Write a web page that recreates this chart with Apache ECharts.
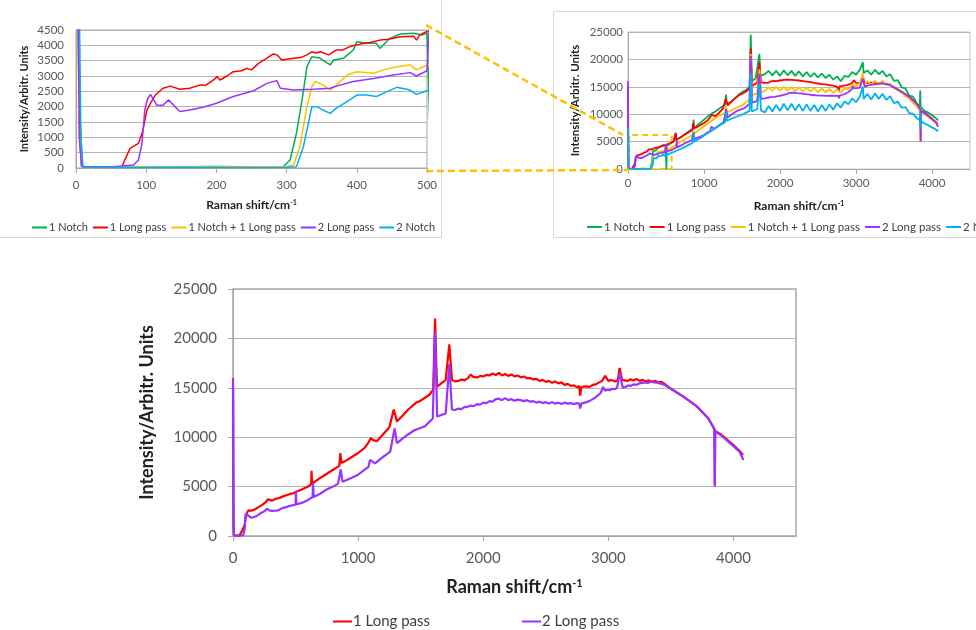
<!DOCTYPE html>
<html>
<head>
<meta charset="utf-8">
<script src="https://cdn.jsdelivr.net/npm/echarts@6/dist/echarts.min.js"></script>
<style>
  html, body { margin: 0; padding: 0; background: #ffffff; }
  #chart { width: 976px; height: 630px; }
</style>
</head>
<body>
<div id="chart"></div>
<script>
// Raman spectra of the same sample recorded through different filter sets.
// Each series is a list of [Raman shift (cm-1), intensity] pairs.

const seriesNames = ['1 Notch', '1 Long pass', '1 Notch + 1 Long pass', '2 Long pass', '2 Notch'];

const notch1 = [
  [0, 5200], [3, 4800], [6, 1500], [9, 60], [15, 30], [50, 40], [100, 25], [150, 30], [200, 45], [250, 30],
  [295, 43], [305, 261], [314, 1130], [322, 2217], [329, 3304], [336, 3630], [348, 3576], [362, 3359],
  [367, 3522], [381, 3576], [395, 3848], [400, 4120], [414, 4065], [428, 4065], [433, 3900], [447, 4228],
  [462, 4370], [481, 4391], [493, 4337], [500, 4400], [506, 0], [510, 4300], [550, 4550], [600, 5000],
  [625, 5300], [630, 6500], [635, 5350], [700, 5800], [800, 6900], [855, 7400], [862, 9000], [870, 7500],
  [950, 8400], [1000, 9000], [1050, 9600], [1100, 10100], [1150, 10500], [1200, 11000], [1280, 11800],
  [1290, 13600], [1300, 12000], [1350, 12200], [1400, 12800], [1450, 13500], [1500, 14000], [1560, 14500],
  [1600, 15000], [1615, 24500], [1630, 16000], [1680, 16600], [1700, 16900], [1729, 21000], [1740, 17000],
  [1800, 17300], [1850, 17900], [1900, 17100], [1950, 17900], [2000, 17000], [2050, 18000], [2100, 17100],
  [2150, 17900], [2200, 17000], [2250, 17800], [2300, 16900], [2350, 17700], [2400, 16800], [2450, 17500],
  [2500, 16700], [2550, 17400], [2600, 16600], [2650, 17200], [2700, 16300], [2750, 16900], [2800, 16000],
  [2850, 17000], [2900, 16800], [2950, 17700], [3000, 17200], [3050, 18100], [3090, 19500], [3100, 17500],
  [3150, 18000], [3200, 17200], [3250, 18100], [3300, 17300], [3350, 17900], [3400, 16900], [3450, 17300],
  [3500, 16100], [3550, 16200], [3600, 14900], [3650, 14700], [3700, 13400], [3750, 13200], [3800, 11900],
  [3840, 11500], [3845, 14300], [3850, 11400], [3900, 10600], [3950, 10300], [4000, 9800], [4050, 9300],
  [4080, 8900]
];

const longPass1 = [
  [0, 15000], [1, 14000], [3, 4800], [5, 1000], [8, 60], [15, 35], [30, 30], [50, 40], [65, 30], [77, 640],
  [89, 800], [95, 1200], [101, 1890], [107, 2150], [113, 2380], [124, 2600], [134, 2670], [148, 2570],
  [162, 2600], [177, 2710], [185, 2700], [196, 2870], [201, 2980], [205, 2870], [215, 3000], [224, 3140],
  [236, 3170], [243, 3250], [250, 3200], [260, 3410], [272, 3580], [281, 3720], [287, 3680], [293, 3520],
  [310, 3580], [320, 3600], [329, 3690], [336, 3790], [342, 3750], [348, 3790], [360, 3690], [371, 3850],
  [380, 3850], [390, 3960], [405, 4040], [420, 4100], [433, 4170], [445, 4200], [462, 4280], [481, 4300],
  [485, 4170], [490, 4350], [500, 4450], [550, 4700], [600, 5000], [625, 5250], [628, 6600], [632, 5300],
  [700, 5900], [750, 6300], [800, 6700], [850, 7100], [858, 8400], [866, 7400], [900, 7600], [950, 8000],
  [1000, 8400], [1050, 8900], [1085, 9500], [1100, 9900], [1120, 9700], [1150, 9600], [1200, 10300],
  [1250, 11000], [1285, 12800], [1310, 11600], [1350, 12100], [1400, 12800], [1465, 13500], [1500, 13700],
  [1570, 14300], [1600, 14800], [1615, 22000], [1630, 15100], [1700, 15800], [1729, 19400],
  [1750, 15800], [1775, 15650], [1800, 15700], [1825, 15850], [1850, 15750], [1880, 16000], [1900, 16350],
  [1920, 16100], [1950, 16050], [1975, 16200], [2000, 16150], [2025, 16300], [2050, 16250], [2075, 16450],
  [2100, 16300], [2125, 16500], [2150, 16250], [2175, 16400], [2200, 16200], [2225, 16350], [2250, 16150],
  [2275, 16250], [2300, 16050], [2325, 16150], [2350, 15950], [2375, 16000], [2400, 15850], [2425, 15900],
  [2450, 15700], [2475, 15800], [2500, 15600], [2525, 15700], [2550, 15500], [2575, 15650], [2600, 15450],
  [2625, 15550], [2650, 15300], [2675, 15400], [2700, 15200], [2725, 15250], [2750, 15050], [2767, 15200],
  [2775, 14200], [2785, 15100], [2800, 15000], [2825, 15150], [2850, 15100], [2875, 15300], [2900, 15350],
  [2920, 15500], [2950, 15700], [2975, 16200], [3000, 15700], [3025, 15800], [3050, 15650], [3075, 15750],
  [3090, 17000], [3110, 15800], [3150, 15700], [3175, 15850], [3200, 15750], [3225, 15900], [3250, 15700],
  [3275, 15800], [3300, 15650], [3325, 15750], [3350, 15600], [3375, 15700], [3400, 15550], [3425, 15600],
  [3450, 15400], [3500, 14900], [3600, 14100], [3700, 13200], [3800, 11900], [3848, 10800], [3851, 5100],
  [3854, 10600], [3900, 10300], [4000, 9200], [4050, 8600], [4076, 8200]
];

const notchPlusLongPass = [
  [0, 6000], [2, 5000], [5, 1200], [8, 60], [15, 30], [100, 40], [200, 50], [260, 40], [300, 40], [310, 100],
  [319, 700], [329, 2000], [336, 2650], [341, 2820], [352, 2710], [362, 2540], [371, 2710], [386, 3030],
  [400, 3140], [424, 3090], [438, 3200], [457, 3300], [476, 3360], [485, 3200], [500, 3360], [550, 3700],
  [600, 4100], [630, 4400], [700, 5000], [800, 5800], [860, 6300], [900, 6800], [1000, 7800], [1100, 8800],
  [1200, 9700], [1280, 10200], [1290, 11500], [1300, 10300], [1400, 11000], [1500, 11600], [1600, 12700],
  [1615, 21000], [1630, 13500], [1700, 13800], [1729, 18200], [1750, 14000], [1800, 14200], [1850, 14900],
  [1900, 14300], [1950, 15000], [2000, 14300], [2050, 15000], [2100, 14300], [2150, 15000], [2200, 14200],
  [2250, 14900], [2300, 14200], [2350, 14900], [2400, 14100], [2450, 14800], [2500, 14000], [2550, 14700],
  [2600, 14000], [2650, 14600], [2700, 13900], [2750, 14500], [2800, 13900], [2850, 14700], [2900, 14600],
  [2950, 15400], [3000, 15100], [3050, 15700], [3090, 17500], [3100, 15500], [3150, 16000], [3200, 15400],
  [3250, 16100], [3300, 15500], [3350, 16100], [3400, 15300], [3450, 15600], [3500, 14800], [3600, 13900],
  [3700, 12800], [3800, 11400], [3848, 10500], [3851, 5000], [3854, 10400], [3900, 10100], [4000, 9000],
  [4080, 8100]
];

const longPass2 = [
  [0, 16000], [1, 15000], [3, 4800], [5, 900], [8, 50], [15, 30], [50, 30], [82, 100], [89, 260], [94, 800],
  [98, 1890], [102, 2250], [106, 2400], [110, 2250], [115, 2050], [124, 2050], [132, 2220], [139, 2050],
  [148, 1840], [162, 1890], [181, 1980], [200, 2110], [224, 2330], [253, 2520], [272, 2760], [286, 2850],
  [291, 2600], [310, 2540], [338, 2570], [362, 2600], [371, 2670], [395, 2820], [424, 2920], [452, 3030],
  [476, 3110], [485, 3000], [500, 3170], [503, 4550], [506, 3200], [550, 3350], [600, 3650], [636, 3950],
  [640, 5300], [645, 3950], [700, 4300], [740, 4650], [800, 5000], [840, 5300], [861, 6750], [875, 5500],
  [950, 5900], [1000, 6200], [1050, 6700], [1083, 7000], [1095, 7700], [1110, 7500], [1135, 7350],
  [1200, 8000], [1257, 8550], [1292, 10900], [1310, 9400], [1350, 9800], [1396, 10250], [1450, 10700],
  [1535, 11100], [1597, 11900], [1615, 20600], [1632, 12100], [1700, 12400], [1729, 17400],
  [1750, 12800], [1775, 12750], [1800, 12900], [1825, 12850], [1850, 13050], [1880, 13100], [1900, 13200],
  [1925, 13150], [1950, 13350], [1975, 13300], [2000, 13500], [2025, 13450], [2050, 13650], [2075, 13600],
  [2100, 13850], [2125, 13900], [2150, 13750], [2175, 13950], [2200, 13750], [2225, 13850], [2250, 13700],
  [2275, 13800], [2300, 13750], [2325, 13650], [2350, 13750], [2375, 13600], [2400, 13650], [2425, 13500],
  [2450, 13600], [2475, 13450], [2500, 13550], [2525, 13400], [2550, 13550], [2575, 13400], [2600, 13500],
  [2625, 13350], [2650, 13500], [2675, 13400], [2700, 13450], [2725, 13350], [2750, 13450], [2767, 13400],
  [2775, 12900], [2785, 13400], [2800, 13450], [2825, 13550], [2854, 13700], [2875, 13850], [2900, 14050],
  [2924, 14300], [2940, 14500], [2958, 15100], [2975, 14700], [2993, 14800], [3010, 14750], [3030, 14900],
  [3050, 14850], [3070, 15000], [3090, 16500], [3115, 15000], [3140, 15100], [3160, 15250], [3180, 15200],
  [3200, 15350], [3225, 15300], [3250, 15450], [3271, 15500], [3300, 15550], [3320, 15500], [3340, 15650],
  [3370, 15550], [3400, 15500], [3450, 15300], [3500, 14900], [3600, 14100], [3700, 13200], [3800, 11900],
  [3848, 10800], [3851, 5000], [3854, 10600], [3900, 10200], [4000, 9100], [4050, 8500], [4080, 7700]
];

const notch2 = [
  [0, 7500], [3, 7000], [5, 4800], [7, 1000], [10, 30], [50, 20], [150, 25], [250, 20], [300, 25], [314, 40],
  [324, 700], [331, 1460], [336, 2000], [343, 2000], [352, 1890], [362, 1780], [371, 1950], [390, 2220],
  [400, 2380], [414, 2380], [428, 2330], [443, 2490], [457, 2630], [476, 2540], [485, 2400], [500, 2520],
  [550, 2800], [600, 3100], [700, 3700], [800, 4400], [855, 4800], [862, 6800], [870, 5000], [950, 5600],
  [1000, 6100], [1100, 7000], [1200, 7900], [1280, 8600], [1290, 10500], [1300, 8800], [1400, 9400],
  [1500, 9900], [1600, 10600], [1615, 17500], [1630, 10500], [1700, 10900], [1729, 15500], [1750, 10700],
  [1800, 10300], [1850, 11500], [1900, 10500], [1950, 11700], [2000, 10600], [2050, 11900], [2100, 10700],
  [2150, 11900], [2200, 10700], [2250, 11800], [2300, 10600], [2350, 11800], [2400, 10600], [2450, 11700],
  [2500, 10500], [2550, 11700], [2600, 10600], [2650, 11800], [2700, 10800], [2750, 12000], [2800, 11200],
  [2850, 12300], [2900, 11800], [2950, 12900], [3000, 12200], [3050, 13200], [3090, 15000], [3100, 12800],
  [3150, 13700], [3200, 12700], [3250, 13800], [3300, 12800], [3350, 13700], [3400, 12600], [3450, 13300],
  [3500, 12000], [3550, 12300], [3600, 11200], [3650, 11300], [3700, 10200], [3750, 10100], [3800, 9300],
  [3840, 8900], [3845, 10300], [3848, 7200], [3852, 8800], [3900, 8300], [3950, 8000], [4000, 7600],
  [4050, 7200], [4080, 6900]
];

// Axis ranges
const detailX = { min: 0, max: 500, interval: 100 };
const detailY = { min: 0, max: 4500, interval: 500 };
const fullX = { min: 0, max: 4500, interval: 1000 };
const fullY = { min: 0, max: 25000, interval: 5000 };
// Region of the full spectrum shown in the detail panel
const zoomRegion = { x0: 15, x1: 575, y0: 0, y1: 6200 };

const COLORS = {
  '1 Notch': '#00B050',
  '1 Long pass': '#FF0000',
  '1 Notch + 1 Long pass': '#FFC000',
  '2 Long pass': '#9933FF',
  '2 Notch': '#00B0F0'
};
const seriesData = {
  '1 Notch': notch1,
  '1 Long pass': longPass1,
  '1 Notch + 1 Long pass': notchPlusLongPass,
  '2 Long pass': longPass2,
  '2 Notch': notch2
};

const FONT = 'Lato, "Open Sans", sans-serif';
const LABEL_COLOR = '#595959';
const GOLD = '#FFC000';
const plain = v => String(v);

function line(name, gridIdx, width) {
  return {
    type: 'line', name: name, data: seriesData[name],
    xAxisIndex: gridIdx, yAxisIndex: gridIdx,
    showSymbol: false, symbol: 'none', clip: true, silent: true,
    animation: false,
    lineStyle: { color: COLORS[name], width: width },
    itemStyle: { color: COLORS[name] }
  };
}

function xAxis(gridIdx, range, fs, titleFs, gap, labelMargin) {
  return {
    type: 'value', gridIndex: gridIdx, min: range.min, max: range.max, interval: range.interval,
    name: '{t|Raman shift/cm}{s|-1}', nameLocation: 'middle', nameGap: gap,
    nameTextStyle: {
      rich: {
        t: { fontFamily: FONT, fontSize: titleFs, fontWeight: 'bold', color: '#222' },
        s: { fontFamily: FONT, fontSize: Math.round(titleFs * 0.6), fontWeight: 'bold', color: '#222', verticalAlign: 'top' }
      }
    },
    axisLine: { show: true, lineStyle: { color: '#A6A6A6', width: 1 } },
    axisTick: { show: true, length: 5, lineStyle: { color: '#A6A6A6' } },
    axisLabel: { fontFamily: FONT, fontSize: fs, color: LABEL_COLOR, margin: labelMargin, formatter: plain,
                 showMaxLabel: range.max === 500 },
    splitLine: { show: false }
  };
}

function yAxis(gridIdx, range, fs, titleFs, gap, labelMargin, tickLen) {
  return {
    type: 'value', gridIndex: gridIdx, min: range.min, max: range.max, interval: range.interval,
    name: 'Intensity/Arbitr. Units', nameLocation: 'middle', nameGap: gap, nameRotate: 90,
    nameTextStyle: { fontFamily: FONT, fontSize: titleFs, fontWeight: 'bold', color: '#222' },
    axisLine: { show: true, lineStyle: { color: '#A6A6A6', width: 1 } },
    axisTick: { show: tickLen > 0, length: tickLen, lineStyle: { color: '#A6A6A6' } },
    axisLabel: { fontFamily: FONT, fontSize: fs, color: LABEL_COLOR, margin: labelMargin, formatter: plain },
    splitLine: { show: true, lineStyle: { color: '#B4B4B4', width: 1 } }
  };
}

const chart = echarts.init(document.getElementById('chart'), null, { renderer: 'canvas' });

const series = [];
seriesNames.forEach(n => series.push(line(n, 0, 1.5)));
seriesNames.forEach(n => series.push(line(n, 1, 1.8)));
series.push(line('1 Long pass', 2, 2.2));
series.push(line('2 Long pass', 2, 2.2));

// dashed box marking the detail region on the full spectrum
series[9].markArea = {
  silent: true,
  itemStyle: { color: 'rgba(0,0,0,0)', borderColor: GOLD, borderWidth: 2, borderType: [6, 4] },
  data: [[{ coord: [zoomRegion.x0, zoomRegion.y0] }, { coord: [zoomRegion.x1, zoomRegion.y1] }]]
};

const legendBase = {
  icon: 'rect', itemHeight: 2, orient: 'horizontal', selectedMode: false
};

const panelRects = [
  { id: 'panelA', type: 'rect', z: -1, shape: { x: -5.5, y: -5.5, width: 447, height: 243 },
    style: { fill: 'none', stroke: '#D9D9D9', lineWidth: 1 } },
  { id: 'panelB', type: 'rect', z: -1, shape: { x: 553.5, y: 11.5, width: 430, height: 226 },
    style: { fill: 'none', stroke: '#D9D9D9', lineWidth: 1 } }
];

chart.setOption({
  animation: false,
  backgroundColor: '#ffffff',
  grid: [
    { left: 76, top: 30, width: 351, height: 138, show: true, borderColor: '#A6A6A6', borderWidth: 1, backgroundColor: 'transparent' },
    { left: 628, top: 32, width: 342, height: 137, show: true, borderColor: '#C8C8C8', borderWidth: 1, backgroundColor: 'transparent' },
    { left: 233, top: 289, width: 563, height: 247, show: true, borderColor: '#A6A6A6', borderWidth: 1.5, backgroundColor: 'transparent' }
  ],
  xAxis: [
    xAxis(0, detailX, 11.5, 12, 31, 11),
    xAxis(1, fullX, 11.5, 12, 31, 8),
    xAxis(2, fullX, 15, 18, 42, 15)
  ],
  yAxis: [
    yAxis(0, detailY, 11.5, 11, 46, 12, 0),
    yAxis(1, fullY, 11.5, 11.5, 47, 5, 0),
    yAxis(2, fullY, 15, 18, 77, 16, 5)
  ],
  legend: [
    Object.assign({}, legendBase, {
      data: seriesNames, left: 27, top: 217, itemWidth: 15, itemGap: 5, width: 600,
      textStyle: { fontFamily: FONT, fontSize: 11, color: '#404040', padding: [0, 0, 0, -3] }
    }),
    Object.assign({}, legendBase, {
      data: seriesNames, left: 582, top: 216, itemWidth: 15, itemGap: 5, width: 800,
      textStyle: { fontFamily: FONT, fontSize: 11.5, color: '#404040', padding: [0, 0, 0, -3] }
    }),
    Object.assign({}, legendBase, {
      data: ['1 Long pass', '2 Long pass'], left: 328, top: 609, itemWidth: 19, itemGap: 92, width: 600,
      textStyle: { fontFamily: FONT, fontSize: 15, color: '#404040', padding: [0, 0, 0, -4] }
    })
  ],
  graphic: { elements: panelRects },
  series: series
});

// connector lines from the detail panel to the marked region
const pTop = chart.convertToPixel({ gridIndex: 0 }, [detailX.max, detailY.max]);
const pBot = chart.convertToPixel({ gridIndex: 0 }, [detailX.max, detailY.min]);
const qTop = chart.convertToPixel({ gridIndex: 1 }, [zoomRegion.x0, zoomRegion.y1]);
const qBot = chart.convertToPixel({ gridIndex: 1 }, [zoomRegion.x0, zoomRegion.y0]);
const dashStyle = { stroke: GOLD, lineWidth: 2.5, lineDash: [7, 4] };

chart.setOption({
  graphic: {
    elements: panelRects.concat([
      { id: 'connTop', type: 'line', z: 100, shape: { x1: pTop[0] - 1, y1: pTop[1] - 5, x2: qTop[0] - 6, y2: qTop[1] }, style: dashStyle },
      { id: 'connBot', type: 'line', z: 100, shape: { x1: pBot[0] - 1, y1: pBot[1] + 3, x2: qBot[0], y2: qBot[1] + 1 }, style: dashStyle }
    ])
  }
});
</script>
</body>
</html>
